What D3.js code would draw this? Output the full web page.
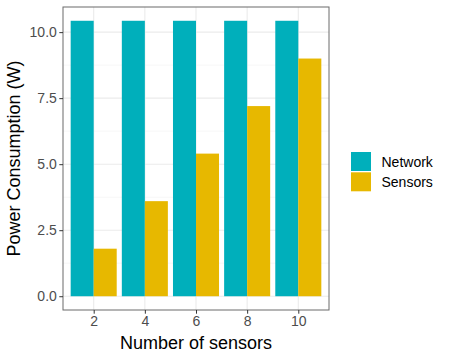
<!DOCTYPE html>
<html>
<head>
<meta charset="utf-8">
<script src="https://cdn.jsdelivr.net/npm/d3@7"></script>
<style>
html,body{margin:0;padding:0;background:#fff;}
svg{display:block;font-family:"Liberation Sans",Arial,Helvetica,sans-serif;}
</style>
</head>
<body>
<svg id="chart" width="450" height="360"></svg>
<script>
const categories = ["2", "4", "6", "8", "10"];
const series = ["Network", "Sensors"];
const networkValues = [10.43, 10.43, 10.43, 10.43, 10.43];
const sensorValues = [1.8, 3.6, 5.4, 7.2, 9.0];
const yTicks = [0, 2.5, 5, 7.5, 10];
const yMinorTicks = [1.25, 3.75, 6.25, 8.75];
const colors = {Network: "#00AFBB", Sensors: "#E7B800"};

const svg = d3.select("#chart");
const panel = {left: 63, right: 329, top: 7, bottom: 310};

const yMax = d3.max(networkValues.concat(sensorValues));
const y = d3.scaleLinear()
  .domain([-0.05 * yMax, yMax * 1.05])
  .range([panel.bottom, panel.top]);

const x = d3.scaleLinear()
  .domain([0.4, categories.length + 0.6])
  .range([panel.left, panel.right]);

// background
svg.append("rect").attr("x", panel.left).attr("y", panel.top)
  .attr("width", panel.right - panel.left).attr("height", panel.bottom - panel.top)
  .attr("fill", "#fff");

// minor grid
svg.append("g").selectAll("line").data(yMinorTicks).join("line")
  .attr("x1", panel.left).attr("x2", panel.right)
  .attr("y1", d => y(d)).attr("y2", d => y(d))
  .attr("stroke", "#F2F2F2").attr("stroke-width", 0.6);

// major grid
svg.append("g").selectAll("line").data(yTicks).join("line")
  .attr("x1", panel.left).attr("x2", panel.right)
  .attr("y1", d => y(d)).attr("y2", d => y(d))
  .attr("stroke", "#EBEBEB").attr("stroke-width", 1.1);
svg.append("g").selectAll("line").data(categories).join("line")
  .attr("x1", (d, i) => x(i + 1)).attr("x2", (d, i) => x(i + 1))
  .attr("y1", panel.top).attr("y2", panel.bottom)
  .attr("stroke", "#EBEBEB").attr("stroke-width", 1.1);

// bars
const rows = categories.map((c, i) => ({c, i, Network: networkValues[i], Sensors: sensorValues[i]}));
const barW = 0.45;
series.forEach((s, si) => {
  svg.append("g").selectAll("rect").data(rows).join("rect")
    .attr("x", d => x(d.i + 1 - 0.45 + si * barW))
    .attr("width", d => x(d.i + 1 - 0.45 + (si + 1) * barW) - x(d.i + 1 - 0.45 + si * barW))
    .attr("y", d => y(d[s]))
    .attr("height", d => y(0) - y(d[s]))
    .attr("fill", colors[s]);
});

// panel border
svg.append("rect").attr("x", panel.left).attr("y", panel.top)
  .attr("width", panel.right - panel.left).attr("height", panel.bottom - panel.top)
  .attr("fill", "none").attr("stroke", "#6b6b6b").attr("stroke-width", 1);

// y axis
const yAxis = d3.axisLeft(y).tickValues(yTicks).tickFormat(d3.format(".1f")).tickSize(3.7).tickPadding(2.5);
const gy = svg.append("g").attr("transform", `translate(${panel.left},0)`).call(yAxis);
gy.select(".domain").remove();
gy.selectAll(".tick line").attr("stroke", "#333");
gy.selectAll(".tick text").attr("fill", "#4D4D4D").style("font-size", "14px")
  .style("font-family", "Liberation Sans, Arial, sans-serif");

// x axis
const xAxis = d3.axisBottom(x).tickValues(categories.map((c, i) => i + 1))
  .tickFormat((d) => categories[d - 1]).tickSize(3.7).tickPadding(2.5);
const gx = svg.append("g").attr("transform", `translate(0,${panel.bottom})`).call(xAxis);
gx.select(".domain").remove();
gx.selectAll(".tick line").attr("stroke", "#333");
gx.selectAll(".tick text").attr("fill", "#4D4D4D").style("font-size", "14px")
  .style("font-family", "Liberation Sans, Arial, sans-serif");

// axis titles
svg.append("text").attr("x", (panel.left + panel.right) / 2).attr("y", 349)
  .attr("text-anchor", "middle").style("font-size", "18px").attr("fill", "#000")
  .text("Number of sensors");
svg.append("text").attr("transform", `translate(20,${(panel.top + panel.bottom) / 2}) rotate(-90)`)
  .attr("text-anchor", "middle").style("font-size", "18px").attr("fill", "#000")
  .text("Power Consumption (W)");

// legend
const lg = svg.append("g").attr("transform", "translate(351,152)");
series.forEach((s, i) => {
  lg.append("rect").attr("x", 0).attr("y", i * 20.3).attr("width", 20).attr("height", 19)
    .attr("fill", colors[s]);
  lg.append("text").attr("x", 30.5).attr("y", i * 20.3 + 14.5)
    .style("font-size", "14px").attr("fill", "#000").text(s);
});
</script>
</body>
</html>
